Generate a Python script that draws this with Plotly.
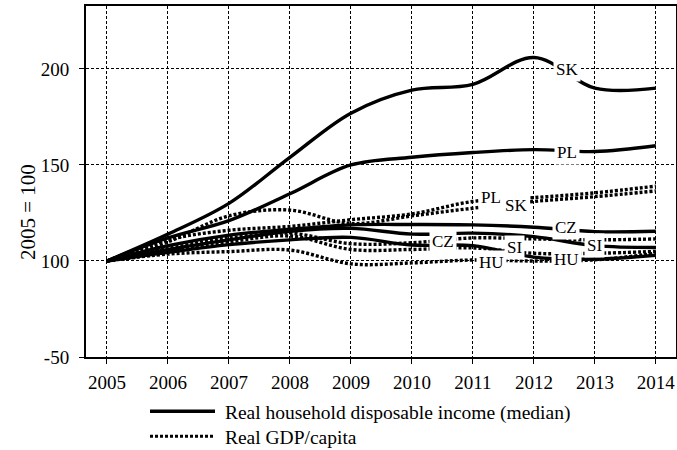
import plotly.graph_objects as go

years = [2005, 2006, 2007, 2008, 2009, 2010, 2011, 2012, 2013, 2014]

# Real household disposable income (median), 2005 = 100
sk_income = [100, 114, 130, 154, 177, 189, 192, 206, 190, 190]
pl_income = [100, 112, 121, 135, 150, 154, 156.5, 158, 157, 160]
cz_income = [100, 108, 113.5, 116.5, 118.8, 119, 118.8, 117.6, 115.3, 115.5]
si_income = [100, 106, 111, 115.5, 117, 114, 114.5, 112.7, 108, 107]
hu_income = [100, 104.5, 108.5, 111, 112.3, 108.3, 108, 102, 101, 103]

# Real GDP per capita, 2005 = 100
sk_gdp = [100, 110, 123.5, 126.5, 119.5, 123.5, 127.5, 131, 133.5, 136.5]
pl_gdp = [100, 111, 116, 118, 121.5, 124.5, 131, 133, 135.5, 139]
cz_gdp = [100, 106.5, 112, 114.5, 109, 109.5, 112, 111.5, 111, 111.5]
si_gdp = [100, 105.5, 110, 113, 106, 106, 106.8, 104, 104, 105]
hu_gdp = [100, 103.6, 104.9, 105.7, 98.5, 99, 100.5, 100, 100.6, 104]

# Series labels
label_text = ["SK", "PL", "CZ", "SI", "HU", "SK", "PL", "CZ", "SI", "HU"]
label_x = [2012.54, 2012.54, 2012.52, 2013.0, 2012.54,
           2011.71, 2011.30, 2010.51, 2011.68, 2011.31]
label_y = [199.6, 156.3, 117.6, 108, 101,
           128.9, 133.3, 110.1, 106.9, 99.1]

y_tickvals = [50, 100, 150, 200]
y_ticktext = ["-50", "100", "150", "200"]

legend_names = ["Real household disposable income (median)", "Real GDP/capita"]
y_title = "2005 = 100"

FONT = "Times New Roman, Liberation Serif, DejaVu Serif, serif"

fig = go.Figure()

income_series = [sk_income, pl_income, cz_income, si_income, hu_income]
gdp_series = [sk_gdp, pl_gdp, cz_gdp, si_gdp, hu_gdp]

for s in gdp_series:
    fig.add_trace(go.Scatter(x=years, y=s, mode="lines", showlegend=False,
                             line=dict(color="black", width=3.4, dash="3px,2px",
                                       shape="spline", smoothing=1),
                             hoverinfo="skip"))
for s in income_series:
    fig.add_trace(go.Scatter(x=years, y=s, mode="lines", showlegend=False,
                             line=dict(color="black", width=3.4,
                                       shape="spline", smoothing=1),
                             hoverinfo="skip"))

# legend entries (two legends so each row can be placed precisely)
fig.add_trace(go.Scatter(x=[None], y=[None], mode="lines",
                         name="\u00a0" + legend_names[0], legend="legend",
                         line=dict(color="black", width=3.5)))
fig.add_trace(go.Scatter(x=[None], y=[None], mode="lines",
                         name="\u00a0" + legend_names[1], legend="legend2",
                         line=dict(color="black", width=3, dash="3px,2px")))

for t, x, y in zip(label_text, label_x, label_y):
    fig.add_annotation(x=x, y=y, text=t, showarrow=False,
                       font=dict(family=FONT, size=17, color="black"),
                       bgcolor="white", borderpad=2)

# y-axis title
fig.add_annotation(x=(14 - 86) / 590, y=(357 - 212) / 351, xref="paper", yref="paper",
                   text=y_title, textangle=-90, showarrow=False,
                   font=dict(family=FONT, size=21, color="black"))

grid = dict(showgrid=True, gridcolor="black", gridwidth=1, griddash="3px,2px")

fig.update_xaxes(range=[2004.656, 2014.33], tickvals=years, **grid,
                 showline=True, linecolor="black", linewidth=2, mirror=True,
                 ticks="outside", ticklen=5, tickcolor="black",
                 tickfont=dict(family=FONT, size=19, color="black"),
                 ticklabelstandoff=2,
                 zeroline=False, automargin=False)
fig.update_yaxes(range=[50, 232.8], tickvals=y_tickvals, ticktext=y_ticktext, **grid,
                 showline=True, linecolor="black", linewidth=2, mirror=True,
                 ticks="outside", ticklen=5, tickcolor="black",
                 tickfont=dict(family=FONT, size=19, color="black"),
                 ticklabelstandoff=6,
                 zeroline=False, automargin=False)

leg_common = dict(xref="container", yref="container", xanchor="left", yanchor="middle",
                  font=dict(family=FONT, size=19.5, color="black"),
                  itemwidth=65, bgcolor="rgba(0,0,0,0)", borderwidth=0)

fig.update_layout(
    width=677, height=450,
    margin=dict(l=86, r=1, t=6, b=93, autoexpand=False),
    paper_bgcolor="white", plot_bgcolor="white",
    font=dict(family=FONT, color="black"),
    showlegend=True,
    legend=dict(x=145 / 677, y=1 - 411.5 / 450, **leg_common),
    legend2=dict(x=145 / 677, y=1 - 436.5 / 450, **leg_common),
)

fig.write_html("out.html")
